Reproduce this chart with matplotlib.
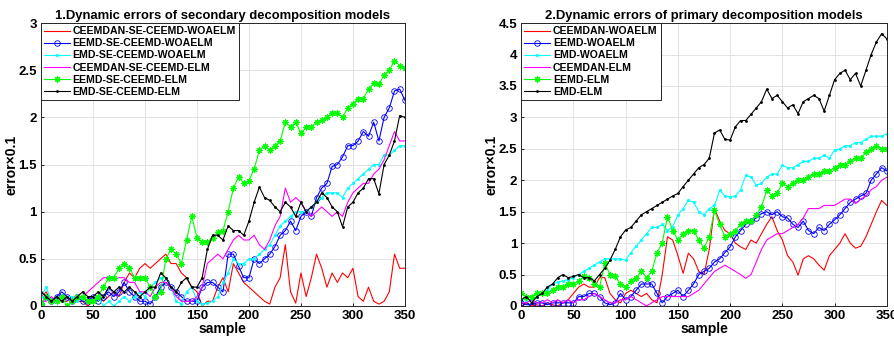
import matplotlib
matplotlib.use("Agg")
import matplotlib.pyplot as plt

plt.rcParams['font.family'] = ['Liberation Sans', 'DejaVu Sans']
plt.rcParams['font.weight'] = 'bold'

# sample axis (read every 5 samples)
sample = list(range(0, 351, 5))

# ---- 1. secondary decomposition models ----
names1 = ['CEEMDAN-SE-CEEMD-WOAELM', 'EEMD-SE-CEEMD-WOAELM', 'EMD-SE-CEEMD-WOAELM',
          'CEEMDAN-SE-CEEMD-ELM', 'EEMD-SE-CEEMD-ELM', 'EMD-SE-CEEMD-ELM']

red1 = [0.10, 0.15, 0.05, 0.10, 0.05, 0.05, 0.10, 0.05, 0.05, 0.00,
        0.05, 0.10, 0.05, 0.10, 0.15, 0.10, 0.25, 0.35, 0.30, 0.40,
        0.45, 0.40, 0.45, 0.50, 0.55, 0.45, 0.45, 0.35, 0.30, 0.20,
        0.15, 0.00, 0.05, 0.05, 0.20, 0.30, 0.15, 0.45, 0.35, 0.25,
        0.20, 0.15, 0.10, 0.05, 0.02, 0.20, 0.30, 0.65, 0.15, 0.03,
        0.35, 0.10, 0.30, 0.55, 0.40, 0.20, 0.35, 0.25, 0.35, 0.30,
        0.40, 0.10, 0.05, 0.20, 0.05, 0.02, 0.05, 0.15, 0.55, 0.40,
        0.40]
blue1 = [0.02, 0.10, 0.05, 0.10, 0.15, 0.10, 0.05, 0.10, 0.05, 0.05,
         0.10, 0.05, 0.10, 0.15, 0.10, 0.15, 0.25, 0.15, 0.10, 0.05,
         0.05, 0.02, 0.10, 0.20, 0.25, 0.20, 0.15, 0.10, 0.05, 0.05,
         0.05, 0.20, 0.25, 0.25, 0.20, 0.15, 0.55, 0.55, 0.42, 0.30,
         0.30, 0.50, 0.45, 0.50, 0.55, 0.63, 0.75, 0.80, 0.90, 0.80,
         0.95, 1.00, 0.95, 1.15, 1.25, 1.30, 1.48, 1.50, 1.58, 1.70,
         1.70, 1.75, 1.85, 1.80, 1.95, 1.75, 2.00, 2.10, 2.28, 2.30,
         2.18]
cyan1 = [0.10, 0.20, 0.05, 0.10, 0.05, 0.10, 0.10, 0.05, 0.10, 0.05,
         0.05, 0.10, 0.00, 0.05, 0.00, 0.05, 0.10, 0.05, 0.10, 0.15,
         0.10, 0.20, 0.25, 0.30, 0.30, 0.20, 0.05, 0.02, 0.15, 0.20,
         0.05, 0.02, 0.03, 0.05, 0.10, 0.25, 0.35, 0.50, 0.45, 0.45,
         0.50, 0.50, 0.55, 0.60, 0.65, 0.75, 0.85, 0.90, 0.95, 1.00,
         1.00, 1.00, 1.05, 1.10, 1.15, 1.20, 1.20, 1.20, 1.15, 1.25,
         1.30, 1.35, 1.40, 1.45, 1.50, 1.50, 1.60, 1.60, 1.65, 1.70,
         1.70]
magenta1 = [0.05, 0.05, 0.10, 0.05, 0.05, 0.10, 0.05, 0.10, 0.10, 0.15,
            0.20, 0.25, 0.30, 0.30, 0.28, 0.30, 0.30, 0.25, 0.25, 0.15,
            0.15, 0.10, 0.20, 0.25, 0.25, 0.20, 0.10, 0.05, 0.05, 0.05,
            0.10, 0.20, 0.45, 0.50, 0.55, 0.50, 0.60, 0.70, 0.75, 0.70,
            0.70, 0.75, 0.65, 0.60, 0.70, 0.85, 0.95, 1.25, 1.10, 1.15,
            1.10, 1.00, 0.95, 1.00, 1.05, 1.00, 0.95, 1.00, 0.95, 1.10,
            1.20, 1.25, 1.30, 1.30, 1.40, 1.45, 1.55, 1.70, 1.85, 1.75,
            1.75]
green1 = [0.02, 0.10, 0.05, 0.05, 0.10, 0.00, 0.05, 0.10, 0.10, 0.05,
          0.05, 0.10, 0.20, 0.30, 0.30, 0.40, 0.45, 0.40, 0.30, 0.30,
          0.30, 0.20, 0.10, 0.15, 0.50, 0.60, 0.55, 0.45, 0.70, 0.95,
          0.72, 0.68, 0.68, 0.72, 0.78, 0.80, 1.00, 1.25, 1.37, 1.30,
          1.33, 1.45, 1.65, 1.70, 1.65, 1.70, 1.75, 1.95, 1.90, 1.95,
          1.83, 1.90, 1.90, 1.95, 1.97, 2.00, 2.05, 2.05, 2.00, 2.10,
          2.14, 2.20, 2.20, 2.30, 2.36, 2.35, 2.45, 2.50, 2.60, 2.55,
          2.52]
black1 = [0.15, 0.10, 0.05, 0.10, 0.05, 0.10, 0.05, 0.10, 0.15, 0.10,
          0.10, 0.15, 0.10, 0.20, 0.15, 0.20, 0.15, 0.20, 0.15, 0.10,
          0.15, 0.20, 0.20, 0.35, 0.30, 0.20, 0.15, 0.25, 0.30, 0.20,
          0.20, 0.30, 0.60, 0.75, 0.75, 0.70, 0.85, 0.80, 0.80, 0.75,
          0.90, 1.10, 1.26, 1.15, 1.12, 1.05, 1.00, 1.10, 1.05, 0.95,
          1.10, 1.00, 1.05, 1.10, 1.20, 1.15, 1.05, 1.00, 0.84, 1.05,
          1.10, 1.20, 1.25, 1.35, 1.35, 1.19, 1.50, 1.60, 1.75, 2.02,
          2.00]

# ---- 2. primary decomposition models ----
names2 = ['CEEMDAN-WOAELM', 'EEMD-WOAELM', 'EMD-WOAELM',
          'CEEMDAN-ELM', 'EEMD-ELM', 'EMD-ELM']

red2 = [0.00, 0.05, 0.00, 0.02, 0.00, 0.05, 0.02, 0.00, 0.05, 0.10,
        0.20, 0.30, 0.35, 0.30, 0.30, 0.45, 0.45, 0.20, 0.10, 0.05,
        0.20, 0.25, 0.20, 0.15, 0.20, 0.10, 0.05, 0.50, 1.10, 1.05,
        0.80, 0.52, 0.84, 0.75, 0.55, 0.50, 0.90, 1.55, 1.35, 1.20,
        1.15, 1.00, 0.94, 0.90, 1.05, 1.00, 1.15, 1.30, 1.42, 1.20,
        1.05, 0.80, 0.70, 0.49, 0.75, 0.80, 0.75, 0.65, 0.57, 0.80,
        0.90, 1.00, 1.15, 1.00, 0.92, 0.95, 1.10, 1.30, 1.50, 1.68,
        1.60]
blue2 = [0.05, 0.02, 0.02, 0.05, 0.05, 0.02, 0.05, 0.05, 0.05, 0.05,
         0.05, 0.15, 0.15, 0.20, 0.20, 0.15, 0.05, 0.02, 0.05, 0.20,
         0.10, 0.15, 0.25, 0.35, 0.35, 0.35, 0.20, 0.05, 0.15, 0.20,
         0.25, 0.15, 0.25, 0.35, 0.50, 0.55, 0.60, 0.70, 0.75, 0.85,
         0.94, 1.10, 1.20, 1.30, 1.35, 1.40, 1.47, 1.50, 1.45, 1.50,
         1.42, 1.40, 1.30, 1.25, 1.35, 1.20, 1.15, 1.25, 1.20, 1.30,
         1.37, 1.45, 1.55, 1.65, 1.70, 1.75, 1.79, 2.00, 2.10, 2.20,
         2.15]
cyan2 = [0.10, 0.10, 0.10, 0.15, 0.20, 0.25, 0.35, 0.38, 0.40, 0.42,
         0.45, 0.50, 0.55, 0.60, 0.65, 0.70, 0.75, 0.75, 0.75, 0.75,
         0.73, 0.85, 0.95, 1.05, 1.15, 1.25, 1.25, 1.30, 1.20, 1.26,
         1.45, 1.55, 1.68, 1.65, 1.50, 1.45, 1.55, 1.60, 1.84, 1.75,
         1.74, 1.75, 1.85, 2.08, 2.05, 1.92, 1.95, 2.05, 2.10, 2.10,
         2.24, 2.20, 2.20, 2.25, 2.30, 2.30, 2.35, 2.35, 2.40, 2.35,
         2.48, 2.50, 2.55, 2.55, 2.60, 2.60, 2.65, 2.70, 2.70, 2.70,
         2.74]
magenta2 = [0.05, 0.05, 0.10, 0.05, 0.05, 0.10, 0.05, 0.10, 0.05, 0.10,
            0.05, 0.10, 0.10, 0.15, 0.20, 0.15, 0.10, 0.05, 0.05, 0.10,
            0.10, 0.15, 0.10, 0.05, 0.00, 0.05, 0.10, 0.15, 0.15, 0.15,
            0.15, 0.15, 0.15, 0.20, 0.25, 0.35, 0.45, 0.55, 0.60, 0.65,
            0.60, 0.55, 0.50, 0.44, 0.50, 0.70, 0.90, 1.05, 1.10, 1.15,
            1.15, 1.20, 1.25, 1.30, 1.40, 1.55, 1.55, 1.55, 1.60, 1.60,
            1.60, 1.65, 1.70, 1.70, 1.63, 1.70, 1.75, 1.85, 1.90, 2.00,
            2.05]
green2 = [0.20, 0.15, 0.15, 0.20, 0.20, 0.20, 0.25, 0.30, 0.30, 0.35,
          0.35, 0.40, 0.47, 0.45, 0.35, 0.30, 0.68, 0.50, 0.47, 0.35,
          0.30, 0.40, 0.45, 0.55, 0.45, 0.55, 0.85, 1.00, 1.42, 1.20,
          1.05, 1.15, 1.20, 1.20, 1.05, 0.92, 1.10, 1.52, 1.30, 1.10,
          1.15, 1.20, 1.30, 1.35, 1.35, 1.45, 1.58, 1.84, 1.75, 1.80,
          1.95, 1.90, 1.95, 2.00, 2.00, 2.05, 2.10, 2.10, 2.15, 2.15,
          2.20, 2.25, 2.25, 2.30, 2.35, 2.35, 2.45, 2.50, 2.55, 2.50,
          2.50]
black2 = [0.10, 0.15, 0.05, 0.15, 0.20, 0.30, 0.35, 0.45, 0.50, 0.45,
          0.47, 0.50, 0.45, 0.45, 0.40, 0.50, 0.60, 0.73, 0.90, 1.10,
          1.21, 1.25, 1.35, 1.45, 1.50, 1.55, 1.60, 1.65, 1.70, 1.75,
          1.79, 1.90, 2.00, 2.10, 2.20, 2.25, 2.35, 2.75, 2.80, 2.65,
          2.64, 2.85, 2.95, 2.95, 3.05, 3.15, 3.25, 3.45, 3.30, 3.35,
          3.25, 3.15, 3.20, 3.06, 3.25, 3.30, 3.35, 3.30, 3.10, 3.35,
          3.60, 3.70, 3.75, 3.60, 3.70, 3.50, 3.75, 4.00, 4.20, 4.33,
          4.25]

# matlab style: r-, b-o, c-., m-, g-*, k-.
styles = [
    dict(color=(1, 0, 0)),
    dict(color=(0, 0, 1), marker='o', markersize=4, markerfacecolor='none', markeredgewidth=0.6),
    dict(color=(0, 1, 1), marker='.', markersize=2.5),
    dict(color=(1, 0, 1)),
    dict(color=(0, 1, 0), marker=(8, 2, 0), markersize=4.5, markeredgewidth=0.8),
    dict(color=(0, 0, 0), marker='.', markersize=2),
]


def draw(ax, series, names, ymax, yticks, title):
    for y, name, st in zip(series, names, styles):
        ax.plot(sample, y, linewidth=0.8, label=name, **st)
    ax.set_xlim(0, 350)
    ax.set_ylim(0, ymax)
    ax.set_xticks(range(0, 351, 50))
    ax.set_yticks(yticks)
    ax.set_yticklabels([('%g' % t) for t in yticks])
    ax.grid(True, color='#e3e3e3', linewidth=0.7)
    ax.set_axisbelow(True)
    for sp in ax.spines.values():
        sp.set_color('#262626')
        sp.set_linewidth(0.7)
    ax.tick_params(labelsize=9.5, length=2.5, width=0.6, direction='in', pad=3)
    ax.set_title(title, fontsize=9.4, fontweight='bold', pad=3)
    ax.set_xlabel('sample', fontsize=10, fontweight='bold', labelpad=0)
    ax.set_ylabel('error×0.1', fontsize=10, fontweight='bold', labelpad=0)
    leg = ax.legend(loc='upper left', fontsize=7.6, handlelength=2.4, labelspacing=0.2,
                    borderpad=0.3, handletextpad=0.3, borderaxespad=0.0, numpoints=1,
                    fancybox=False, framealpha=1)
    leg.get_frame().set_edgecolor('#262626')
    leg.get_frame().set_linewidth(0.7)
    for t in leg.get_texts():
        t.set_fontweight('bold')


fig = plt.figure(figsize=(8.94, 3.38), dpi=100)
ax1 = fig.add_axes([0.0459, 0.0947, 0.407, 0.837])
ax2 = fig.add_axes([0.583, 0.0947, 0.409, 0.837])

draw(ax1, [red1, blue1, cyan1, magenta1, green1, black1], names1, 3,
     [0, 0.5, 1, 1.5, 2, 2.5, 3], '1.Dynamic errors of secondary decomposition models')
draw(ax2, [red2, blue2, cyan2, magenta2, green2, black2], names2, 4.5,
     [0, 0.5, 1, 1.5, 2, 2.5, 3, 3.5, 4, 4.5], '2.Dynamic errors of primary decomposition models')

fig.savefig('out.png', dpi=100)
